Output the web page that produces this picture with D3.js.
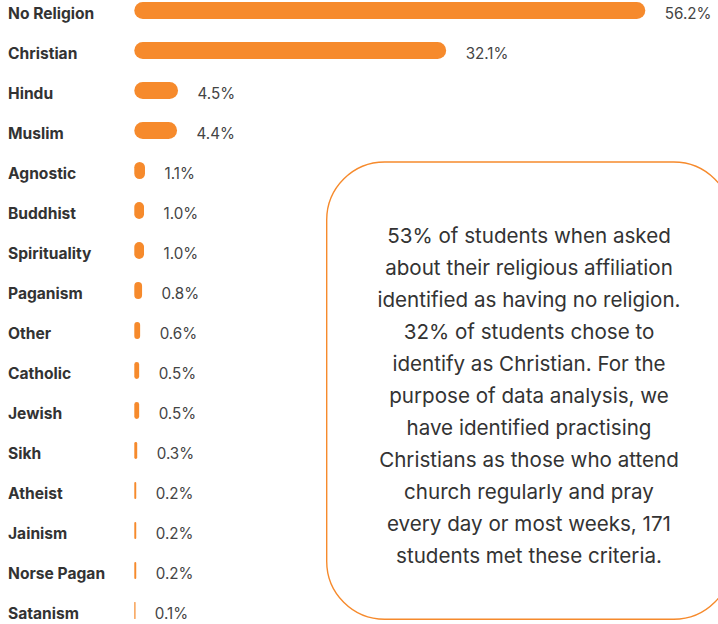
<!DOCTYPE html>
<html>
<head>
<meta charset="utf-8">
<script src="https://cdn.jsdelivr.net/npm/d3@7/dist/d3.min.js"></script>
<style>
  html, body { margin: 0; padding: 0; background: #ffffff; }
  svg { display: block; }
</style>
</head>
<body>
<svg id="chart" width="718" height="624"></svg>
<script>
const categories = ["No Religion","Christian","Hindu","Muslim","Agnostic","Buddhist","Spirituality","Paganism","Other","Catholic","Jewish","Sikh","Atheist","Jainism","Norse Pagan","Satanism"];
const values = [56.2, 32.1, 4.5, 4.4, 1.1, 1.0, 1.0, 0.8, 0.6, 0.5, 0.5, 0.3, 0.2, 0.2, 0.2, 0.1];
const valueLabels = ["56.2%","32.1%","4.5%","4.4%","1.1%","1.0%","1.0%","0.8%","0.6%","0.5%","0.5%","0.3%","0.2%","0.2%","0.2%","0.1%"];
const noteLines = [
  "53% of students when asked",
  "about their religious affiliation",
  "identified as having no religion.",
  "32% of students chose to",
  "identify as Christian. For the",
  "purpose of data analysis, we",
  "have identified practising",
  "Christians as those who attend",
  "church regularly and pray",
  "every day or most weeks, 171",
  "students met these criteria."
];

const ORANGE = "#f68a2c";
const FONT = "Inter, 'Noto Sans', sans-serif";
const svg = d3.select("#chart");

const barX0 = 134.3;
const x = d3.scaleLinear().domain([0, 52.6]).range([0, 511]).clamp(true);
const y = d3.scaleBand().domain(categories).range([-9.5, 630.5]).paddingInner(0.575).paddingOuter(0.2875);

const data = categories.map((c, i) => ({ c, v: values[i], label: valueLabels[i] }));
const bh = 17;
const rowCenter = d => y(d.c) + y.bandwidth() / 2;

const g = svg.append("g");

g.selectAll("text.cat").data(data).enter().append("text")
  .attr("class", "cat")
  .attr("x", 8)
  .attr("y", d => rowCenter(d) + 8.8)
  .attr("font-family", FONT)
  .attr("font-size", 15.6)
  .attr("font-weight", 700)
  .attr("fill", "#333333")
  .text(d => d.c);

g.selectAll("rect.bar").data(data).enter().append("rect")
  .attr("class", "bar")
  .attr("x", barX0)
  .attr("y", d => rowCenter(d) - bh / 2)
  .attr("width", d => Math.max(1.2, x(d.v)))
  .attr("height", bh)
  .attr("rx", d => Math.min(bh / 2, Math.max(1.2, x(d.v)) / 2))
  .attr("fill", ORANGE);

g.selectAll("text.val").data(data).enter().append("text")
  .attr("class", "val")
  .attr("x", d => barX0 + x(d.v) + 19.5)
  .attr("y", d => rowCenter(d) + 8.8)
  .attr("font-family", FONT)
  .attr("font-size", 15.2)
  .attr("fill", "#444444")
  .text(d => d.label);

// Note box
svg.append("rect")
  .attr("x", 326.7)
  .attr("y", 162)
  .attr("width", 405)
  .attr("height", 457.3)
  .attr("rx", 58)
  .attr("fill", "none")
  .attr("stroke", ORANGE)
  .attr("stroke-width", 1.4);

svg.append("g").selectAll("text").data(noteLines).enter().append("text")
  .attr("x", 529)
  .attr("y", (d, i) => 243.3 + i * 32)
  .attr("text-anchor", "middle")
  .attr("font-family", FONT)
  .attr("font-size", 20.6)
  .attr("fill", "#333333")
  .text(d => d);
</script>
</body>
</html>
